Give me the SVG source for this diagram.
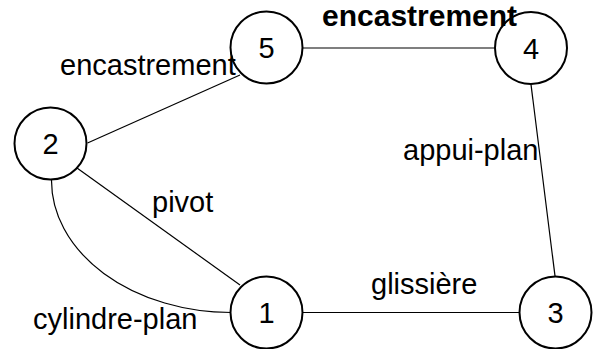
<svg xmlns="http://www.w3.org/2000/svg" width="595" height="349" viewBox="0 0 595 349">
<style>
.node{fill:#fff;stroke:#000;stroke-width:2}
.num{font-family:"Liberation Sans",Arial,sans-serif;font-size:29px;fill:#000;text-anchor:middle}
.edge{fill:none;stroke:#000;stroke-width:1.2}
.lbl{font-family:"Liberation Sans",Arial,sans-serif;font-size:29px;fill:#000}
.bold{font-weight:bold;font-size:30px}
</style>
<rect width="595" height="349" fill="#fff"/>
<g id="connectors">
<line class="edge" x1="303" y1="48" x2="494" y2="48"/>
<line class="edge" x1="87.5" y1="143" x2="240" y2="75"/>
<line class="edge" x1="77" y1="168" x2="240" y2="285"/>
<path class="edge" d="M51.5 180 A180.5 132 0 0 0 231 312.5"/>
<line class="edge" x1="303" y1="312.5" x2="519" y2="312.5"/>
<line class="edge" x1="531" y1="84.5" x2="555" y2="276"/>
</g>
<g id="node5"><circle class="node" cx="266.5" cy="47.5" r="36"/><text class="num" x="266.5" y="58">5</text></g>
<g id="node4"><circle class="node" cx="531" cy="48" r="36"/><text class="num" x="531" y="58.5">4</text></g>
<g id="node2"><circle class="node" cx="50.5" cy="143.5" r="36"/><text class="num" x="50.5" y="154">2</text></g>
<g id="node1"><circle class="node" cx="266.5" cy="312.5" r="36"/><text class="num" x="266.5" y="323">1</text></g>
<g id="node3"><circle class="node" cx="555.5" cy="312.5" r="36"/><text class="num" x="555.5" y="323">3</text></g>
<g id="labels">
<text class="lbl" x="60" y="75">encastrement</text>
<text class="lbl bold" x="322" y="26">encastrement</text>
<text class="lbl" x="403" y="160">appui-plan</text>
<text class="lbl" x="152" y="212">pivot</text>
<text class="lbl" x="371" y="294">glissière</text>
<text class="lbl" x="33" y="329">cylindre-plan</text>
</g>
</svg>
